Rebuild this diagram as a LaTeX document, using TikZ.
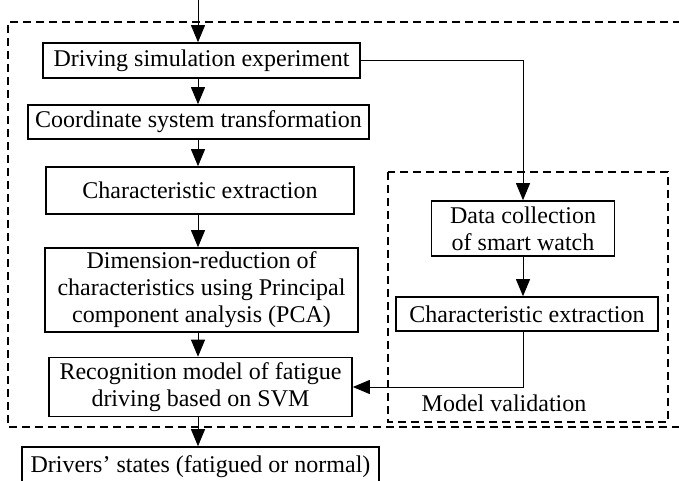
\documentclass[tikz,border=0pt]{standalone}
\usepackage{fontspec}
\setmainfont{Liberation Serif}
\usetikzlibrary{arrows.meta}
\begin{document}
\begin{tikzpicture}[x=1pt,y=-1pt,
  box/.style={draw,line width=1.6pt,inner sep=0pt,align=center,font=\fontsize{24}{27}\selectfont},
  conn/.style={line width=0.9pt},
  arr/.style={conn,-{Triangle[width=14pt,length=17pt]}},
  dbox/.style={line width=1.6pt,dash pattern=on 8pt off 5pt}]
\useasboundingbox (0,0) rectangle (679,481);
\clip (0,0) rectangle (679,481);
\coordinate (top) at (198,0);
\node[box,minimum width=317pt,minimum height=35pt] (b1) at (201.5,60.5) {Driving simulation experiment};
\node[box,minimum width=341pt,minimum height=34pt] (b2) at (198.5,122) {Coordinate system transformation};
\node[box,minimum width=308pt,minimum height=47pt] (b3) at (200,190.5) {Characteristic extraction};
\node[box,minimum width=313pt,minimum height=84pt] (b4) at (201.5,290) {Dimension-reduction of\\characteristics using Principal\\component analysis (PCA)};
\node[box,minimum width=303pt,minimum height=59pt] (b5) at (200.5,387) {Recognition model of fatigue\\driving based on SVM};
\node[box,minimum width=357pt,minimum height=40pt] (b8) at (200.5,467) {Drivers’ states (fatigued or normal)};
\node[box,minimum width=183pt,minimum height=55pt] (b6) at (523,228.5) {Data collection\\of smart watch};
\node[box,minimum width=262pt,minimum height=34pt] (b7) at (527,314) {Characteristic extraction};
\node[font=\fontsize{24}{27}\selectfont,inner sep=0pt] (mv) at (504,403) {Model validation};
% dashed frames
\draw[dbox] (681,22) -- (8,22) -- (8,427) -- (681,427);
\draw[dbox] (388,172) rectangle (668,422);
% connectors
\draw[arr] (top) -- (b1.north -| top);
\draw[arr] (b1.south -| top) -- (b2.north -| top);
\draw[arr] (b2.south -| top) -- (b3.north -| top);
\draw[arr] (b3.south -| top) -- (b4.north -| top);
\draw[arr] (b4.south -| top) -- (b5.north -| top);
\draw[arr] (b5.south -| top) -- (b8.north -| top);
\draw[arr] (b1.east) -| (b6.north);
\draw[arr] (b6.south) -- (b7.north -| b6.south);
\draw[arr] (b7.south -| b6.south) |- (b5.east);
\end{tikzpicture}
\end{document}
